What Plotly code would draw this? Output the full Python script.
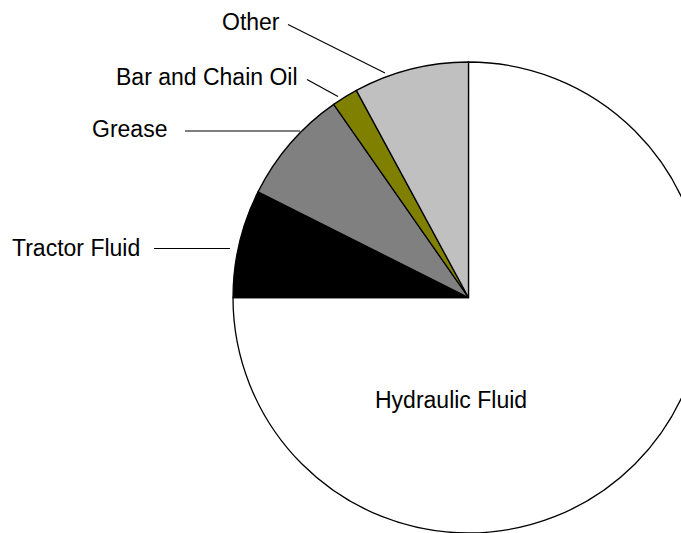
import plotly.graph_objects as go

# Share of each lubricant category (percent of total)
categories = ["Hydraulic Fluid", "Tractor Fluid", "Grease", "Bar and Chain Oil", "Other"]
shares = [75.0, 7.4, 7.9, 1.8, 7.9]
slice_colors = ["#ffffff", "#000000", "#808080", "#808000", "#c0c0c0"]

W, H = 705, 533          # canvas; right edge of the pie runs past the window
CX, CY, R = 468.5, 297.5, 235.5   # pie centre and radius in pixels

def px(x):
    return x / W

def py(y):
    return 1 - y / H

fig = go.Figure(
    go.Pie(
        labels=categories,
        values=shares,
        sort=False,
        direction="clockwise",
        rotation=0,
        marker=dict(colors=slice_colors, line=dict(color="#000000", width=1.3)),
        textinfo="none",
        hoverinfo="label+percent",
        showlegend=False,
        domain=dict(x=[px(CX - R), px(CX + R)], y=[py(CY + R), py(CY - R)]),
    )
)

font = dict(family="Liberation Sans, Arial, sans-serif", size=23, color="#000000")

# Outside labels: (text, right edge x, centre y) and their leader lines
outside = [
    ("Other", 282, 22, (288, 24.5), (385, 73)),
    ("Bar and Chain Oil", 300, 77, (307, 79.5), (338, 96.5)),
    ("Grease", 168.5, 129, (185, 131), (300, 131)),
    ("Tractor Fluid", 142, 248, (154, 248.5), (230, 248.5)),
]

annotations = []
shapes = []
for text, xr, yc, p0, p1 in outside:
    annotations.append(dict(
        text=text, x=px(xr), y=py(yc), xref="paper", yref="paper",
        xanchor="right", yanchor="middle", showarrow=False, font=font,
    ))
    shapes.append(dict(
        type="line", xref="paper", yref="paper",
        x0=px(p0[0]), y0=py(p0[1]), x1=px(p1[0]), y1=py(p1[1]),
        line=dict(color="#000000", width=1.2),
    ))

annotations.append(dict(
    text="Hydraulic Fluid", x=px(450.5), y=py(400), xref="paper", yref="paper",
    xanchor="center", yanchor="middle", showarrow=False, font=font,
))

fig.update_layout(
    width=W,
    height=H,
    margin=dict(l=0, r=0, t=0, b=0),
    paper_bgcolor="#ffffff",
    plot_bgcolor="#ffffff",
    annotations=annotations,
    shapes=shapes,
)

fig.write_html(
    "out.html",
    config={"displayModeBar": False},
    post_script="document.documentElement.style.overflow='hidden';document.body.style.overflow='hidden';",
)
